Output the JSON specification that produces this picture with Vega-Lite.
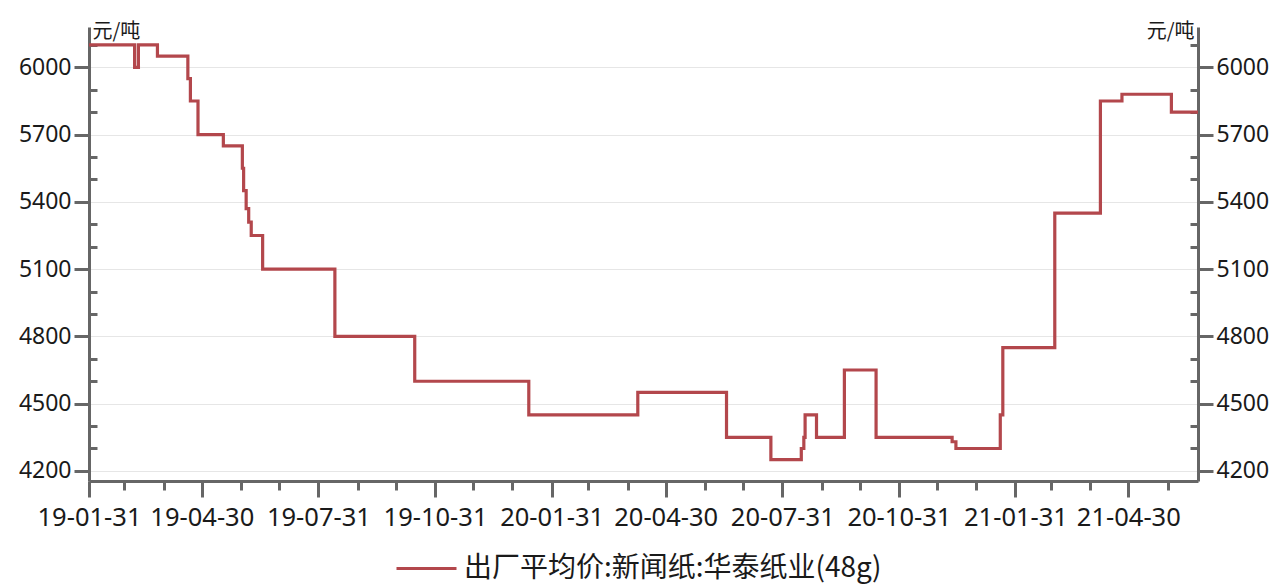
{
  "$schema": "https://vega.github.io/schema/vega-lite/v6.json",
  "autosize": "none",
  "width": 1109,
  "height": 454,
  "padding": {"left": 89, "top": 27, "right": 82, "bottom": 107},
  "background": "white",
  "config": {"view": {"stroke": null}},
  "data": {
    "values": [
      {"date": "2019-01-31", "price": 6100},
      {"date": "2019-03-08", "price": 6000},
      {"date": "2019-03-11", "price": 6100},
      {"date": "2019-03-26", "price": 6050},
      {"date": "2019-04-19", "price": 5950},
      {"date": "2019-04-21", "price": 5850},
      {"date": "2019-04-27", "price": 5700},
      {"date": "2019-05-17", "price": 5650},
      {"date": "2019-06-01", "price": 5550},
      {"date": "2019-06-02", "price": 5450},
      {"date": "2019-06-04", "price": 5370},
      {"date": "2019-06-06", "price": 5310},
      {"date": "2019-06-08", "price": 5250},
      {"date": "2019-06-17", "price": 5100},
      {"date": "2019-08-13", "price": 4800},
      {"date": "2019-10-15", "price": 4600},
      {"date": "2020-01-13", "price": 4450},
      {"date": "2020-04-08", "price": 4550},
      {"date": "2020-06-17", "price": 4350},
      {"date": "2020-07-22", "price": 4250},
      {"date": "2020-08-15", "price": 4300},
      {"date": "2020-08-17", "price": 4350},
      {"date": "2020-08-18", "price": 4450},
      {"date": "2020-08-27", "price": 4350},
      {"date": "2020-09-18", "price": 4650},
      {"date": "2020-10-13", "price": 4350},
      {"date": "2020-12-12", "price": 4330},
      {"date": "2020-12-15", "price": 4300},
      {"date": "2021-01-19", "price": 4450},
      {"date": "2021-01-21", "price": 4750},
      {"date": "2021-03-03", "price": 5350},
      {"date": "2021-04-08", "price": 5850},
      {"date": "2021-04-25", "price": 5880},
      {"date": "2021-06-03", "price": 5800},
      {"date": "2021-06-24", "price": 5800}
    ]
  },
  "encoding": {
    "x": {
      "field": "date",
      "type": "temporal",
      "scale": {
        "type": "utc",
        "domain": [
          {"year": 2019, "month": 1, "date": 31, "utc": true},
          {"year": 2021, "month": 6, "date": 24, "utc": true}
        ],
        "nice": false
      },
      "axis": {
        "title": null,
        "grid": false,
        "values": [
          {"year": 2019, "month": 1, "date": 31, "utc": true},
          {"year": 2019, "month": 2, "date": 28, "utc": true},
          {"year": 2019, "month": 3, "date": 31, "utc": true},
          {"year": 2019, "month": 4, "date": 30, "utc": true},
          {"year": 2019, "month": 5, "date": 31, "utc": true},
          {"year": 2019, "month": 6, "date": 30, "utc": true},
          {"year": 2019, "month": 7, "date": 31, "utc": true},
          {"year": 2019, "month": 8, "date": 31, "utc": true},
          {"year": 2019, "month": 9, "date": 30, "utc": true},
          {"year": 2019, "month": 10, "date": 31, "utc": true},
          {"year": 2019, "month": 11, "date": 30, "utc": true},
          {"year": 2019, "month": 12, "date": 31, "utc": true},
          {"year": 2020, "month": 1, "date": 31, "utc": true},
          {"year": 2020, "month": 2, "date": 29, "utc": true},
          {"year": 2020, "month": 3, "date": 31, "utc": true},
          {"year": 2020, "month": 4, "date": 30, "utc": true},
          {"year": 2020, "month": 5, "date": 31, "utc": true},
          {"year": 2020, "month": 6, "date": 30, "utc": true},
          {"year": 2020, "month": 7, "date": 31, "utc": true},
          {"year": 2020, "month": 8, "date": 31, "utc": true},
          {"year": 2020, "month": 9, "date": 30, "utc": true},
          {"year": 2020, "month": 10, "date": 31, "utc": true},
          {"year": 2020, "month": 11, "date": 30, "utc": true},
          {"year": 2020, "month": 12, "date": 31, "utc": true},
          {"year": 2021, "month": 1, "date": 31, "utc": true},
          {"year": 2021, "month": 2, "date": 28, "utc": true},
          {"year": 2021, "month": 3, "date": 31, "utc": true},
          {"year": 2021, "month": 4, "date": 30, "utc": true},
          {"year": 2021, "month": 5, "date": 31, "utc": true}
        ],
        "labelExpr": "utcmonth(datum.value) % 3 == 0 ? utcFormat(datum.value, '%y-%m-%d') : ''",
        "labelOverlap": false,
        "labelFlush": false,
        "tickSize": {"condition": {"test": "utcmonth(datum.value) % 3 == 0", "value": 16}, "value": 9},
        "labelPadding": 8,
        "labelFont": "Noto Sans",
        "labelFontSize": 25.5,
        "labelColor": "#1a1a1a",
        "domainColor": "#666666",
        "domainWidth": 3,
        "tickColor": "#666666",
        "tickWidth": 3
      }
    },
    "y": {
      "field": "price",
      "type": "quantitative",
      "scale": {"domain": [4155, 6180], "nice": false, "zero": false}
    }
  },
  "layer": [
    {
      "mark": {"type": "line", "interpolate": "step-after", "strokeWidth": 3.2},
      "encoding": {
        "y": {
          "field": "price",
          "type": "quantitative",
          "axis": {
            "orient": "left",
            "values": [4200, 4300, 4400, 4500, 4600, 4700, 4800, 4900, 5000, 5100, 5200, 5300, 5400, 5500, 5600, 5700, 5800, 5900, 6000, 6100],
            "format": "d",
            "labelExpr": "datum.value % 300 == 0 ? datum.label : ''",
            "tickSize": {"condition": {"test": "datum.value % 300 == 0", "value": 15}, "value": -8},
            "labelPadding": 3,
            "labelFont": "Noto Sans",
            "labelFontSize": 23,
            "labelColor": "#1a1a1a",
            "domainColor": "#666666",
            "domainWidth": 3,
            "tickColor": "#666666",
            "tickWidth": 3,
            "grid": true,
            "gridColor": "#e6e6e6",
            "gridWidth": 1,
            "gridOpacity": {"condition": {"test": "datum.value % 300 == 0", "value": 1}, "value": 0},
            "title": "元/吨",
            "titleAngle": 0,
            "titleX": 3,
            "titleY": 10,
            "titleAlign": "left",
            "titleBaseline": "alphabetic",
            "titleFont": "Noto Sans CJK SC",
            "titleFontSize": 20,
            "titleFontWeight": "normal",
            "titleColor": "#1a1a1a"
          }
        },
        "color": {
          "datum": "出厂平均价:新闻纸:华泰纸业(48g)",
          "type": "nominal",
          "scale": {"range": ["#b3474c"]},
          "legend": {
            "title": null,
            "orient": "none",
            "legendX": 306,
            "legendY": 510,
            "symbolType": "stroke",
            "symbolSize": 3600,
            "symbolStrokeWidth": 3,
            "labelFont": "Noto Sans CJK SC",
            "labelFontSize": 28,
            "labelColor": "#1a1a1a",
            "labelOffset": 6,
            "labelLimit": 0
          }
        }
      }
    },
    {
      "mark": {"type": "line", "interpolate": "step-after", "strokeWidth": 3, "opacity": 0},
      "encoding": {
        "y": {
          "field": "price",
          "type": "quantitative",
          "axis": {
            "orient": "right",
            "values": [4200, 4300, 4400, 4500, 4600, 4700, 4800, 4900, 5000, 5100, 5200, 5300, 5400, 5500, 5600, 5700, 5800, 5900, 6000, 6100],
            "format": "d",
            "labelExpr": "datum.value % 300 == 0 ? datum.label : ''",
            "tickSize": {"condition": {"test": "datum.value % 300 == 0", "value": 15}, "value": -8},
            "labelPadding": 3,
            "labelFont": "Noto Sans",
            "labelFontSize": 23,
            "labelColor": "#1a1a1a",
            "domainColor": "#666666",
            "domainWidth": 3,
            "tickColor": "#666666",
            "tickWidth": 3,
            "grid": false,
            "title": "元/吨",
            "titleAngle": 0,
            "titleX": -4,
            "titleY": 10,
            "titleAlign": "right",
            "titleBaseline": "alphabetic",
            "titleFont": "Noto Sans CJK SC",
            "titleFontSize": 20,
            "titleFontWeight": "normal",
            "titleColor": "#1a1a1a"
          }
        }
      }
    }
  ],
  "resolve": {"axis": {"y": "independent"}}
}
